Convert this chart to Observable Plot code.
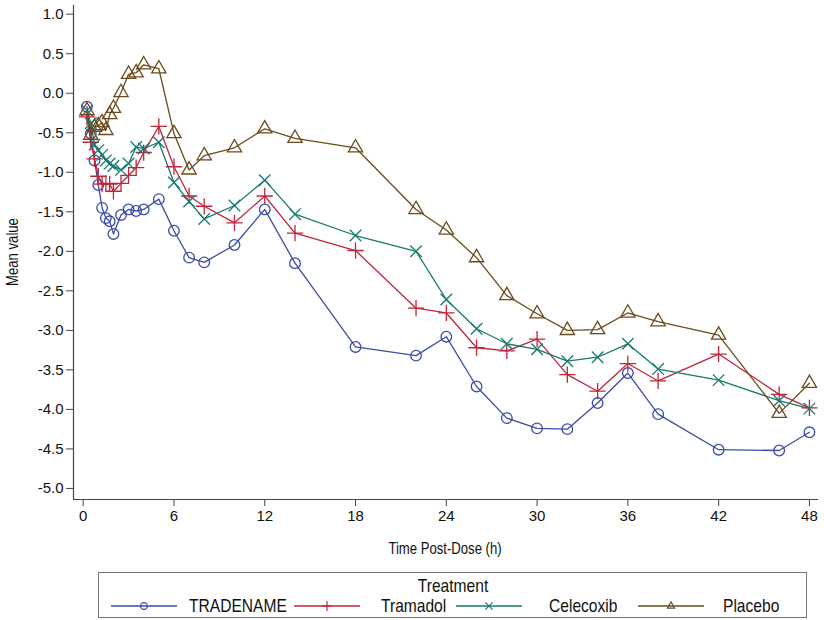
<!DOCTYPE html>
<html><head><meta charset="utf-8">
<script src="https://cdn.jsdelivr.net/npm/d3@7"></script>
<script src="https://cdn.jsdelivr.net/npm/@observablehq/plot@0.6"></script>
<style>
body{margin:0;background:#fff;font-family:"Liberation Sans",Arial,sans-serif;}
#wrap{position:relative;width:824px;height:620px;overflow:hidden;}
.cond{font-family:"Liberation Sans",Arial,sans-serif;color:#111;white-space:nowrap;}
#xtitle{position:absolute;left:445px;top:549px;transform:translate(-50%,-50%) scaleX(0.82);font-size:16px;}
#ytitle{position:absolute;left:13px;top:252px;transform:translate(-50%,-50%) rotate(-90deg) scaleX(0.82);font-size:16px;}
#legend{position:absolute;left:98px;top:572px;width:709px;height:46px;border:1px solid #777;box-sizing:border-box;}
#legend .title{position:absolute;left:50%;top:13px;transform:translate(-50%,-50%) scaleX(0.82);font-size:19px;}
#legend .sw{position:absolute;top:25px;}
#legend .lab{position:absolute;top:33px;transform:translateY(-50%) scaleX(0.82);transform-origin:left center;font-size:19px;}
</style></head><body><div id="wrap"></div>
<script>
const times = [0.25,0.5,0.75,1,1.25,1.5,1.75,2,2.5,3,3.5,4,5,6,7,8,10,12,14,18,22,24,26,28,30,32,34,36,38,42,46,48];
const tradename = [-0.17,-0.51,-0.85,-1.16,-1.45,-1.58,-1.62,-1.78,-1.54,-1.47,-1.49,-1.47,-1.34,-1.74,-2.08,-2.14,-1.92,-1.47,-2.15,-3.21,-3.32,-3.08,-3.71,-4.11,-4.24,-4.25,-3.92,-3.54,-4.06,-4.51,-4.52,-4.29];
const tramadol = [-0.30,-0.62,-0.83,-1.05,-1.15,-1.14,-1.15,-1.24,-1.14,-1.04,-0.94,-0.75,-0.42,-0.93,-1.30,-1.43,-1.64,-1.30,-1.77,-1.99,-2.72,-2.78,-3.22,-3.26,-3.11,-3.56,-3.77,-3.42,-3.64,-3.30,-3.81,-3.98];
const celecoxib = [-0.22,-0.38,-0.65,-0.72,-0.78,-0.85,-0.89,-0.92,-0.97,-0.89,-0.68,-0.70,-0.62,-1.13,-1.37,-1.59,-1.42,-1.10,-1.53,-1.80,-2.00,-2.61,-2.98,-3.17,-3.24,-3.39,-3.34,-3.17,-3.49,-3.63,-3.89,-3.99];
const placebo = [-0.22,-0.53,-0.43,-0.41,-0.37,-0.47,-0.27,-0.19,0.01,0.24,0.26,0.36,0.31,-0.51,-0.97,-0.79,-0.69,-0.45,-0.57,-0.69,-1.47,-1.73,-2.08,-2.56,-2.79,-3.00,-2.99,-2.78,-2.89,-3.06,-4.05,-3.67];
const treatments = ["TRADENAME","Tramadol","Celecoxib","Placebo"];
const xTicks = [0,6,12,18,24,30,36,42,48];
const yTicks = [1.0,0.5,0.0,-0.5,-1.0,-1.5,-2.0,-2.5,-3.0,-3.5,-4.0,-4.5,-5.0];
const xTitle = "Time Post-Dose (h)";
const yTitle = "Mean value";
const legendTitle = "Treatment";

const colors = ["#3c4ca6","#c0253b","#157a6c","#6b4a1e"];
const symbols = ["circle","plus","times","triangle"];
const xDomain = [-0.64, 48.6];
const yDomain = [-5.14, 1.11];
// legend layout (px inside the legend box)
const swatchLeft = [12, 195, 357, 539];
const labelLeft = [90, 282, 450, 624];

const valuesBy = [tradename, tramadol, celecoxib, placebo];
const rows = treatments.flatMap((name, k) => times.map((t, i) => ({t, v: valuesBy[k][i], name})));

const chart = Plot.plot({
  width: 824, height: 565,
  marginLeft: 73, marginRight: 6, marginTop: 5, marginBottom: 66,
  style: {fontFamily: '"Liberation Sans", Arial, sans-serif', color: "#111", background: "#fff"},
  x: {domain: xDomain},
  y: {domain: yDomain},
  color: {domain: treatments, range: colors},
  symbol: {domain: treatments, range: symbols},
  marks: [
    Plot.axisX({ticks: xTicks, tickSize: 7, tickPadding: 4, fontSize: 15, label: null, stroke: "#444"}),
    Plot.axisY({ticks: yTicks, tickSize: 7, tickPadding: 3, fontSize: 15, label: null, tickFormat: d => d.toFixed(1), stroke: "#444"}),
    Plot.ruleX([xDomain[0]], {stroke: "#444", strokeWidth: 1.2}),
    Plot.ruleY([yDomain[0]], {stroke: "#444", strokeWidth: 1.2}),
    Plot.line(rows, {x: "t", y: "v", z: "name", stroke: "name", strokeWidth: 1.3}),
    Plot.dot(rows, {x: "t", y: "v", stroke: "name", symbol: "name", fill: "none", r: 5.3, strokeWidth: 1.3})
  ]
});

const wrap = document.getElementById("wrap");
wrap.appendChild(chart);

const xt = document.createElement("div"); xt.id = "xtitle"; xt.className = "cond"; xt.textContent = xTitle; wrap.appendChild(xt);
const yt = document.createElement("div"); yt.id = "ytitle"; yt.className = "cond"; yt.textContent = yTitle; wrap.appendChild(yt);

const lg = document.createElement("div"); lg.id = "legend"; lg.className = "cond";
const ttl = document.createElement("div"); ttl.className = "title"; ttl.textContent = legendTitle; lg.appendChild(ttl);
const d3sym = {circle: d3.symbolCircle, plus: d3.symbolPlus, times: d3.symbolTimes, triangle: d3.symbolTriangle2};
treatments.forEach((name, k) => {
  const svg = d3.create("svg").attr("class", "sw").attr("width", 66).attr("height", 16).style("left", swatchLeft[k] + "px");
  svg.append("line").attr("x1", 0).attr("x2", 66).attr("y1", 8).attr("y2", 8).attr("stroke", colors[k]).attr("stroke-width", 1.3);
  svg.append("path").attr("transform", "translate(33,8)").attr("d", d3.symbol(d3sym[symbols[k]], 36)()).attr("fill", "none").attr("stroke", colors[k]).attr("stroke-width", 1.2);
  lg.appendChild(svg.node());
  const tx = document.createElement("div"); tx.className = "lab"; tx.style.left = labelLeft[k] + "px"; tx.textContent = name; lg.appendChild(tx);
});
wrap.appendChild(lg);
</script></body></html>
